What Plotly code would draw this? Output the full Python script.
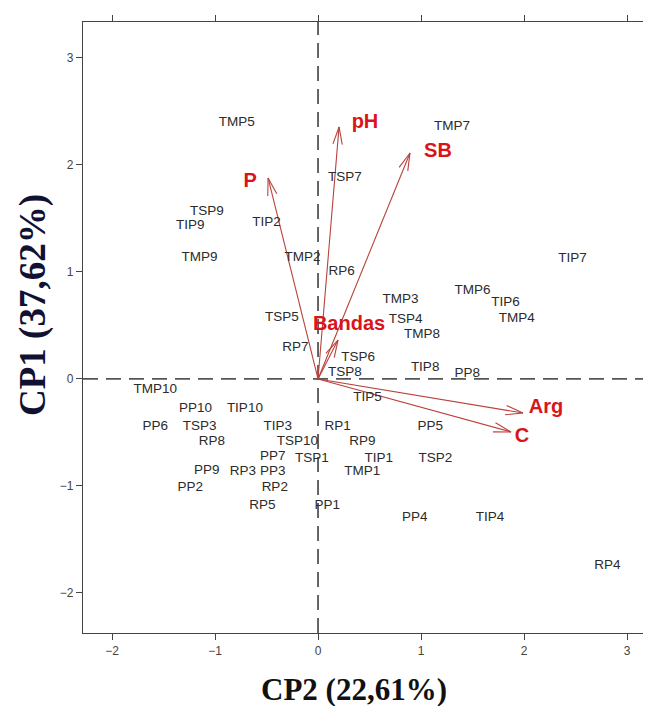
import math
import plotly.graph_objects as go

# ---------------- data ----------------
obs_labels = ["TMP5", "TSP9", "TIP9", "TIP2", "TMP9", "TMP2", "RP6", "TSP7", "TMP7", "TIP7",
              "TMP6", "TIP6", "TMP4", "TMP3", "TSP4", "TMP8", "TSP6", "TSP8", "TIP8", "PP8",
              "TIP5", "PP5", "RP1", "RP9", "TIP1", "TSP2", "TMP1", "PP4", "TIP4", "RP4",
              "PP6", "TSP3", "TIP3", "RP8", "TSP10", "PP7", "TSP1", "PP9", "RP3", "PP3",
              "PP2", "RP2", "RP5", "PP1", "TSP5", "RP7", "TMP10", "PP10", "TIP10"]
obs_cp2 = [-0.79, -1.08, -1.24, -0.50, -1.15, -0.15, 0.23, 0.26, 1.30, 2.47,
           1.50, 1.82, 1.93, 0.80, 0.85, 1.01, 0.39, 0.26, 1.04, 1.45,
           0.48, 1.09, 0.19, 0.43, 0.59, 1.14, 0.43, 0.94, 1.67, 2.81,
           -1.58, -1.15, -0.39, -1.03, -0.20, -0.44, -0.06, -1.08, -0.73, -0.44,
           -1.24, -0.42, -0.54, 0.09, -0.35, -0.22, -1.58, -1.19, -0.71]
obs_cp1 = [2.40, 1.56, 1.43, 1.46, 1.13, 1.13, 1.00, 1.88, 2.36, 1.12,
           0.83, 0.71, 0.56, 0.74, 0.55, 0.41, 0.20, 0.06, 0.11, 0.05,
           -0.17, -0.45, -0.45, -0.59, -0.74, -0.74, -0.87, -1.30, -1.30, -1.74,
           -0.45, -0.45, -0.45, -0.59, -0.59, -0.73, -0.74, -0.86, -0.87, -0.87,
           -1.02, -1.02, -1.18, -1.18, 0.57, 0.29, -0.10, -0.28, -0.28]

var_labels = ["P", "pH", "SB", "Bandas", "Arg", "C"]
var_cp2 = [-0.485, 0.204, 0.893, 0.194, 1.990, 1.874]
var_cp1 = [1.879, 2.355, 2.112, 0.364, -0.318, -0.495]
var_label_cp2 = [-0.66, 0.456, 1.165, 0.301, 2.214, 1.981]
var_label_cp1 = [1.841, 2.393, 2.121, 0.505, -0.271, -0.542]

x_ticks = [-2, -1, 0, 1, 2, 3]
y_ticks = [-2, -1, 0, 1, 2, 3]
x_title = "CP2 (22,61%)"
y_title = "CP1 (37,62%)"

# ---------------- layout geometry (page has an 8px body margin) ----------------
W, H = 643, 698
ML, MR, MT, MB = 75, 0, 14, 73
XR = [-2.282, 3.233]
YR = [-2.374, 3.336]
pw, ph = W - ML - MR, H - MT - MB
kx = pw / (XR[1] - XR[0])
ky = ph / (YR[1] - YR[0])

ARROW_COL = "#B8423C"
VAR_COL = "#D9141B"
TXT_COL = "#2b2b2b"

fig = go.Figure()

# arrows (shafts + open V heads computed in pixel space)
ax_, ay_ = [], []
head_len, head_ang = 18.0, math.radians(15)
for x, y in zip(var_cp2, var_cp1):
    ax_ += [0, x, None]
    ay_ += [0, y, None]
    ang = math.atan2(y * ky, x * kx) + math.pi
    for s in (-1, 1):
        a = ang + s * head_ang
        ax_ += [x, x + head_len * math.cos(a) / kx, None]
        ay_ += [y, y + head_len * math.sin(a) / ky, None]
fig.add_trace(go.Scatter(x=ax_, y=ay_, mode="lines",
                         line=dict(color=ARROW_COL, width=1.1),
                         hoverinfo="skip", showlegend=False))

# observation labels
fig.add_trace(go.Scatter(x=obs_cp2, y=obs_cp1, mode="text", text=obs_labels,
                         textposition="middle center",
                         textfont=dict(family="Liberation Sans, Arial", size=13.5, color=TXT_COL),
                         showlegend=False, cliponaxis=False))

# variable labels
fig.add_trace(go.Scatter(x=var_label_cp2, y=var_label_cp1, mode="text",
                         text=["<b>%s</b>" % v for v in var_labels],
                         textposition="middle center",
                         textfont=dict(family="Liberation Sans, Arial", size=20, color=VAR_COL),
                         showlegend=False, cliponaxis=False))

# dashed reference lines through the origin
dash_style = dict(color="#555555", width=1.8, dash="15px,8px")
fig.add_shape(type="line", xref="x", yref="paper", x0=0, x1=0, y0=0, y1=1, line=dash_style, layer="below")
fig.add_shape(type="line", xref="paper", yref="y", x0=0, x1=1, y0=0, y1=0, line=dash_style, layer="below")

axis_common = dict(showgrid=False, zeroline=False, showline=True, linecolor="#444444", linewidth=1.2,
                   ticks="outside", ticklen=6, tickwidth=1.2, tickcolor="#444444", mirror="ticks",
                   tickfont=dict(family="Liberation Sans, Arial", size=12, color="#444444"))

fig.update_layout(
    width=W, height=H,
    margin=dict(l=ML, r=MR, t=MT, b=MB, autoexpand=False),
    paper_bgcolor="white", plot_bgcolor="white",
    xaxis=dict(range=XR, tickvals=x_ticks, ticktext=[str(v).replace("-", "\u2212") for v in x_ticks], **axis_common),
    yaxis=dict(range=YR, tickvals=y_ticks, ticktext=[str(v).replace("-", "\u2212") for v in y_ticks], **axis_common),
    showlegend=False,
)

# titles (pixel targets given in page coordinates, minus the 8px body margin)
fig.add_annotation(text="<b>%s</b>" % x_title, xref="paper", yref="paper",
                   x=(346 - ML) / pw, y=-(681 - (H - MB)) / ph, xanchor="center", yanchor="middle",
                   showarrow=False, font=dict(family="Liberation Serif, Times New Roman", size=31, color="#111111"))
fig.add_annotation(text="<b>%s</b>" % y_title, xref="paper", yref="paper",
                   x=-(ML - 25) / pw, y=((H - MB) - 297) / ph, xanchor="center", yanchor="middle",
                   textangle=-90, showarrow=False,
                   font=dict(family="Liberation Serif, Times New Roman", size=37, color="#111133"))

fig.write_html("out.html")
